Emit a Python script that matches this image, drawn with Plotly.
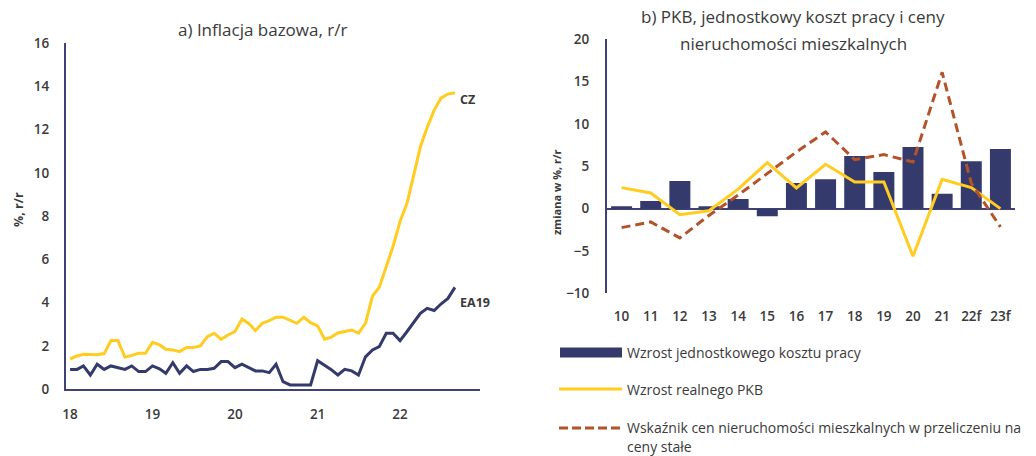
import pandas as pd
import plotly.graph_objects as go

# ---------------- data ----------------
months = pd.date_range("2018-01-01", periods=57, freq="MS")
cz = [1.4, 1.54, 1.62, 1.62, 1.6, 1.65, 2.25, 2.25, 1.48, 1.57, 1.66, 1.66,
      2.17, 2.05, 1.85, 1.82, 1.74, 1.93, 1.93, 2.0, 2.43, 2.59, 2.31, 2.51,
      2.67, 3.24, 3.05, 2.71, 3.05, 3.17, 3.33, 3.33, 3.2, 3.05, 3.33, 3.08,
      2.93, 2.31, 2.4, 2.6, 2.67, 2.74, 2.6, 3.05, 4.31, 4.71, 5.67, 6.6,
      7.75, 8.6, 9.83, 11.2, 12.1, 12.9, 13.45, 13.64, 13.7]
ea19 = [0.92, 0.92, 1.08, 0.66, 1.16, 0.92, 1.08, 1.0, 0.92, 1.08, 0.82, 0.82,
        1.08, 0.95, 0.74, 1.23, 0.74, 1.08, 0.82, 0.92, 0.92, 0.97, 1.28, 1.28,
        1.0, 1.16, 1.0, 0.85, 0.85, 0.77, 1.16, 0.35, 0.2, 0.2, 0.2, 0.2,
        1.32, 1.12, 0.92, 0.66, 0.92, 0.85, 0.66, 1.5, 1.82, 1.97, 2.59, 2.59,
        2.25, 2.67, 3.05, 3.51, 3.74, 3.64, 3.94, 4.2, 4.71]
year_ticks = pd.to_datetime(["2018-01-01", "2019-01-01", "2020-01-01", "2021-01-01", "2022-01-01"])
year_labels = ["18", "19", "20", "21", "22"]

years_b = ["10", "11", "12", "13", "14", "15", "16", "17", "18", "19", "20", "21", "22f", "23f"]
ulc = [0.28, 0.9, 3.27, 0.28, 1.14, -0.9, 3.03, 3.46, 6.22, 4.33, 7.28, 1.77, 5.59, 7.05]
gdp = [2.48, 1.85, -0.71, -0.25, 2.3, 5.43, 2.44, 5.24, 3.15, 3.15, -5.63, 3.46, 2.48, 0.0]
house = [-2.24, -1.57, -3.46, -0.8, 1.6, 4.15, 6.7, 9.06, 5.79, 6.38, 5.51, 16.1, 3.0, -2.17]

legend_labels = ["Wzrost jednostkowego kosztu pracy", "Wzrost realnego PKB",
                 "Wskaźnik cen nieruchomości mieszkalnych w przeliczeniu na", "ceny stałe"]

# ---------------- style ----------------
W, H = 1036, 456
FONT = "Open Sans, Lato, sans-serif"
NAVY = "#353A6D"
YELLOW = "#FFCC1F"
RED = "#B4532A"
AXIS = "#3F4373"
TXT = "#3A3A3A"


def px(x):
    return x / W


def py(y):
    return (H - y) / H


fig = go.Figure()

fig.add_trace(go.Scatter(x=months, y=cz, mode="lines", line=dict(color=YELLOW, width=3),
                         xaxis="x", yaxis="y", showlegend=False))
fig.add_trace(go.Scatter(x=months, y=ea19, mode="lines", line=dict(color=NAVY, width=3),
                         xaxis="x", yaxis="y", showlegend=False))

fig.add_trace(go.Bar(x=years_b, y=ulc, marker=dict(color=NAVY, line=dict(width=0)),
                     xaxis="x2", yaxis="y2", showlegend=False))
fig.add_trace(go.Scatter(x=years_b, y=gdp, mode="lines", line=dict(color=YELLOW, width=3),
                         xaxis="x2", yaxis="y2", showlegend=False))
fig.add_trace(go.Scatter(x=years_b, y=house, mode="lines",
                         line=dict(color=RED, width=3, dash="9px,5px"),
                         xaxis="x2", yaxis="y2", showlegend=False))

common = dict(ticks="outside", tickcolor="rgba(0,0,0,0)", automargin=False, showgrid=False,
              tickfont=dict(size=13.5, color=TXT, weight=600))

fig.update_layout(
    width=W, height=H,
    margin=dict(l=0, r=0, t=0, b=0, pad=0),
    paper_bgcolor="white", plot_bgcolor="white",
    font=dict(family=FONT, color=TXT, size=13),
    bargap=0.28,
    xaxis=dict(domain=[px(66), px(480)], type="date",
               range=["2017-12-14", "2022-12-21"],
               tickvals=year_ticks, ticktext=year_labels,
               showline=True, linecolor=AXIS, linewidth=2,
               zeroline=False, ticklen=11, anchor="y", **common),
    yaxis=dict(domain=[py(389.3), py(43)], range=[0, 16], dtick=2,
               showline=True, linecolor=AXIS, linewidth=2,
               zeroline=False, ticklen=12, anchor="x", **common),
    xaxis2=dict(domain=[px(607), px(1015)], type="category", range=[-0.5, 13.5],
                showline=False, zeroline=False, ticklen=10, anchor="y2", **common),
    yaxis2=dict(domain=[py(293.3), py(39.3)], range=[-10, 20], dtick=5,
                showline=True, linecolor=AXIS, linewidth=2,
                zeroline=True, zerolinecolor=AXIS, zerolinewidth=2,
                ticklen=13, anchor="x2", **common),
)


def note(text, x, y, size, **kw):
    d = dict(text=text, x=px(x), y=py(y), xref="paper", yref="paper", showarrow=False,
             xanchor="center", yanchor="middle", font=dict(size=size, color=TXT))
    d.update(kw)
    return d


ann = [
    note("a) Inflacja bazowa, r/r", 262, 30, 17),
    note("b) PKB, jednostkowy koszt pracy i ceny", 793, 17, 17),
    note("nieruchomości mieszkalnych", 793, 43, 17),
    note("<b>%, r/r</b>", 18, 210, 12.5, textangle=-90),
    note("<b>zmiana w %, r/r</b>", 556, 192, 11, textangle=-90),
    dict(text="<b>CZ</b>", x=months[-1], y=cz[-1], xref="x", yref="y", xanchor="left",
         yanchor="middle", xshift=3, yshift=-7, showarrow=False, font=dict(size=12.5, color=TXT)),
    dict(text="<b>EA19</b>", x=months[-1], y=ea19[-1], xref="x", yref="y", xanchor="left",
         yanchor="middle", xshift=3, yshift=-15, showarrow=False, font=dict(size=12.5, color=TXT)),
]

legend_y = [352, 389, 427, 446]
for lbl, ly in zip(legend_labels, legend_y):
    ann.append(note(lbl, 625, ly, 14, xanchor="left"))

shapes = [
    dict(type="rect", xref="paper", yref="paper", x0=px(560), x1=px(622), y0=py(357.5), y1=py(347.5),
         fillcolor=NAVY, line=dict(width=0)),
    dict(type="line", xref="paper", yref="paper", x0=px(559), x1=px(622), y0=py(389), y1=py(389),
         line=dict(color=YELLOW, width=3)),
    dict(type="line", xref="paper", yref="paper", x0=px(559), x1=px(622), y0=py(428), y1=py(428),
         line=dict(color=RED, width=3, dash="9px,4px")),
]

fig.update_layout(annotations=ann, shapes=shapes)
fig.write_html("out.html", config={"displayModeBar": False},
               post_script="document.body.style.margin='0px';")
